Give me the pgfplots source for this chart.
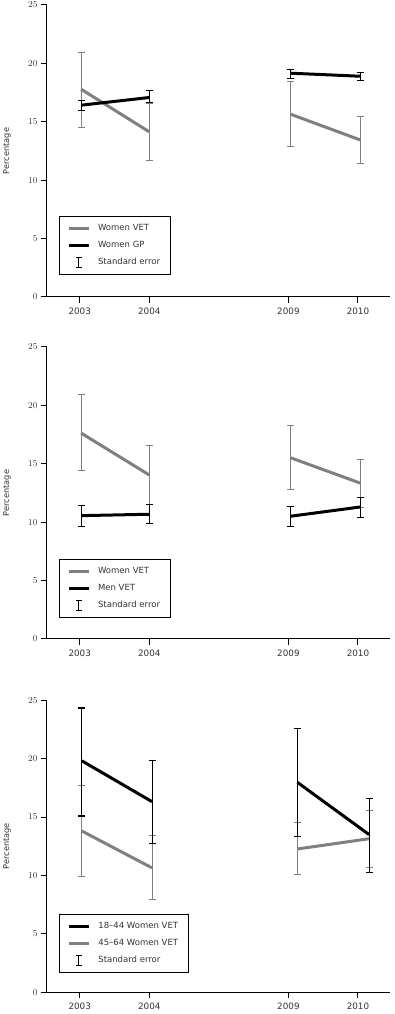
\documentclass[border=0pt]{standalone}
\usepackage{pgfplots}
\pgfplotsset{compat=1.18}
\usepackage{pgfplotstable}
\usepackage{fontspec}
\setmainfont{DejaVu Sans}
\definecolor{lgray}{RGB}{128,128,128}
\definecolor{txt}{RGB}{51,51,51}

\pgfplotstableread{
x y ep em
0.02 17.79 3.19 3.28
1.00 14.14 2.45 2.45
2.00 nan 0 0
3.03 15.65 2.77 2.74
4.03 13.45 1.97 2.02
}\pa
\pgfplotstableread{
x y ep em
0.02 16.42 0.43 0.48
1.00 17.08 0.59 0.40
2.00 nan 0 0
3.03 19.16 0.28 0.49
4.03 18.90 0.31 0.34
}\pb
\pgfplotstableread{
x y ep em
0.02 17.63 3.27 3.22
1.00 14.04 2.56 2.48
2.00 nan 0 0
3.03 15.52 2.79 2.74
4.03 13.35 2.00 2.05
}\qa
\pgfplotstableread{
x y ep em
0.02 10.56 0.86 0.94
1.00 10.68 0.82 0.77
2.00 nan 0 0
3.03 10.51 0.82 0.89
4.03 11.30 0.80 0.91
}\qb
\pgfplotstableread{
x y ep em
0.03 19.82 4.52 4.73
1.04 16.32 3.55 3.59
2.00 nan 0 0
3.13 17.97 4.64 4.64
4.16 13.50 3.07 3.25
}\ra
\pgfplotstableread{
x y ep em
0.03 13.81 3.87 3.90
1.04 10.65 2.76 2.71
2.00 nan 0 0
3.13 12.27 2.25 2.19
4.16 13.15 2.40 2.47
}\rb

\pgfplotsset{
  panel/.style={
    scale only axis, width=343pt, height=292pt,
    anchor=south west,
    axis x line=bottom, axis y line=left,
    axis line style={-, line width=1pt, black},
    xmin=-0.47, xmax=4.46, ymin=0, ymax=25,
    xtick={0,1,3,4}, xticklabels={2003,2004,2009,2010},
    ytick={0,5,10,15,20,25},
    tick align=outside,
    major tick length=6pt,
    tick style={line width=1pt, black},
    tick label style={font=\fontsize{8.8}{10}\selectfont, text=txt},
    xticklabel style={yshift=-1pt},
    ylabel={Percentage},
    ylabel style={at={(axis description cs:-0.117,0.5)}, anchor=center, font=\fontsize{8.2}{9}\selectfont, text=txt},
    legend cell align=left,
    legend style={draw=black, line width=0.8pt, font=\fontsize{8.5}{10}\selectfont, text=txt,
      inner xsep=8pt, inner ysep=6.5pt, row sep=5pt,
      /tikz/every odd column/.append style={column sep=6pt}},
    unbounded coords=jump,
    clip=false,
  },
  gline/.style={lgray, line width=3pt, no markers, forget plot,
    /pgfplots/error bars/y dir=both, /pgfplots/error bars/y explicit,
    /pgfplots/error bars/error bar style={lgray, line width=0.8pt},
    /pgfplots/error bars/error mark options={lgray, line width=0.8pt, mark size=3.5pt, rotate=90}},
  bline/.style={black, line width=3pt, no markers, forget plot,
    /pgfplots/error bars/y dir=both, /pgfplots/error bars/y explicit,
    /pgfplots/error bars/error bar style={black, line width=1.1pt},
    /pgfplots/error bars/error mark options={black, line width=1.1pt, mark size=3.5pt, rotate=90}},
}

\begin{document}
\begin{tikzpicture}[x=1pt,y=1pt]
\useasboundingbox (0pt,0pt) rectangle (395pt,1014pt);

% Panel 1
\begin{axis}[panel, at={(47pt,717pt)},
  legend style={at={(axis description cs:0.034,0.075)}, anchor=south west}]
\addplot[gline] table[x=x, y=y, y error plus=ep, y error minus=em] {\pa};
\addplot[bline] table[x=x, y=y, y error plus=ep, y error minus=em] {\pb};
\addlegendimage{legend image code/.code={\draw[lgray,line width=3pt](0pt,0pt)--(20pt,0pt);}}
\addlegendentry{Women VET}
\addlegendimage{legend image code/.code={\draw[black,line width=3pt](0pt,0pt)--(20pt,0pt);}}
\addlegendentry{Women GP}
\addlegendimage{legend image code/.code={\draw[black,line width=0.9pt](10pt,-5pt)--(10pt,5pt) (7pt,-5pt)--(13pt,-5pt) (7pt,5pt)--(13pt,5pt);}}
\addlegendentry{Standard error}
\end{axis}

% Panel 2
\begin{axis}[panel, at={(47pt,375pt)},
  legend style={at={(axis description cs:0.034,0.072)}, anchor=south west}]
\addplot[gline] table[x=x, y=y, y error plus=ep, y error minus=em] {\qa};
\addplot[bline] table[x=x, y=y, y error plus=ep, y error minus=em] {\qb};
\addlegendimage{legend image code/.code={\draw[lgray,line width=3pt](0pt,0pt)--(20pt,0pt);}}
\addlegendentry{Women VET}
\addlegendimage{legend image code/.code={\draw[black,line width=3pt](0pt,0pt)--(20pt,0pt);}}
\addlegendentry{Men VET}
\addlegendimage{legend image code/.code={\draw[black,line width=0.9pt](10pt,-5pt)--(10pt,5pt) (7pt,-5pt)--(13pt,-5pt) (7pt,5pt)--(13pt,5pt);}}
\addlegendentry{Standard error}
\end{axis}

% Panel 3
\begin{axis}[panel, at={(47pt,21.7pt)},
  legend style={at={(axis description cs:0.035,0.066)}, anchor=south west}]
\addplot[gline] table[x=x, y=y, y error plus=ep, y error minus=em] {\rb};
\addplot[bline] table[x=x, y=y, y error plus=ep, y error minus=em] {\ra};
\addlegendimage{legend image code/.code={\draw[black,line width=3pt](0pt,0pt)--(20pt,0pt);}}
\addlegendentry{18–44 Women VET}
\addlegendimage{legend image code/.code={\draw[lgray,line width=3pt](0pt,0pt)--(20pt,0pt);}}
\addlegendentry{45–64 Women VET}
\addlegendimage{legend image code/.code={\draw[black,line width=0.9pt](10pt,-5pt)--(10pt,5pt) (7pt,-5pt)--(13pt,-5pt) (7pt,5pt)--(13pt,5pt);}}
\addlegendentry{Standard error}
\end{axis}
\end{tikzpicture}
\end{document}
